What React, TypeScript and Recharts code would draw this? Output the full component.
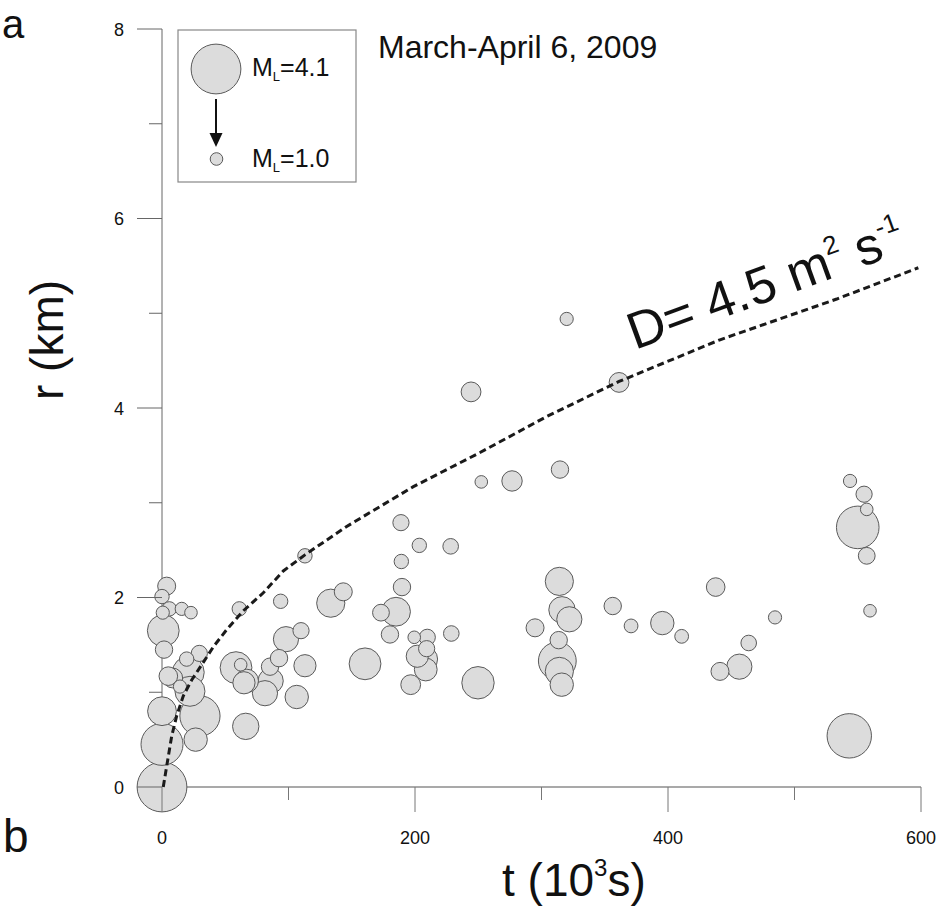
import React from 'react';
import { ScatterChart, Scatter, XAxis, YAxis } from 'recharts';

// event time (10^3 s), distance r (km), local magnitude
const quakeTime = [
    3.7, 0, 5.8, 0.6, 15.6, 22.9, 1.0, 1.6, 19.5, 29.5, 5.0, 8.5, 20.8, 22.1, 14.2, 0, 30.0, 26.6, 0, 0,
    113, 61.1, 93.8, 58.5, 62.2, 67, 64.8, 85.4, 92.5, 98, 109.9, 113, 85.9, 81.4, 106.5, 66.2,
    244.3, 252.4, 276.7, 314.6, 188.9, 203.4, 228.2, 189.2, 189.7, 314.1, 143.3, 133.4, 185, 173.1,
    356.3, 316.2, 322, 180.2, 199.4, 209.7, 228.7, 294.9, 313.6, 209.2, 201.8, 207.9, 208.5, 312.5,
    314.1, 316, 160.5, 196.6, 249.8, 319.9, 361.3, 543.9, 555, 557.1, 550, 557.1, 559.7, 370.8,
    395.5, 410.8, 437.7, 484.6, 463.8, 456.4, 441.1, 543.3,
];
const quakeDist = [
    2.12, 2.01, 1.88, 1.84, 1.88, 1.84, 1.65, 1.45, 1.35, 1.41, 1.17, 1.15, 1.21, 1.01, 1.06, 0.8, 0.75, 0.5, 0.45, 0.0,
    2.44, 1.88, 1.96, 1.26, 1.29, 1.12, 1.1, 1.27, 1.36, 1.56, 1.65, 1.28, 1.12, 0.99, 0.95, 0.64,
    4.17, 3.22, 3.23, 3.35, 2.79, 2.55, 2.54, 2.38, 2.11, 2.17, 2.06, 1.94, 1.85, 1.84,
    1.91, 1.87, 1.77, 1.61, 1.58, 1.58, 1.62, 1.68, 1.55, 1.46, 1.38, 1.35, 1.24, 1.33,
    1.22, 1.08, 1.3, 1.08, 1.1, 4.94, 4.27, 3.23, 3.09, 2.93, 2.74, 2.44, 1.86, 1.7,
    1.73, 1.59, 2.11, 1.79, 1.52, 1.27, 1.22, 0.54,
];
const quakeMag = [
    1.45, 1.15, 1.15, 1.05, 1.05, 1.0, 2.6, 1.4, 1.15, 1.3, 1.5, 1.6, 2.6, 2.45, 1.05, 2.35, 3.3, 1.9, 3.45, 4.1,
    1.15, 1.15, 1.15, 2.6, 1.0, 1.9, 1.8, 1.4, 1.4, 2.05, 1.3, 1.8, 2.05, 2.05, 1.9, 2.15,
    1.6, 1.0, 1.65, 1.4, 1.3, 1.15, 1.25, 1.15, 1.4, 2.3, 1.45, 2.3, 2.35, 1.35,
    1.4, 2.15, 2.05, 1.4, 1.0, 1.3, 1.25, 1.45, 1.4, 1.3, 1.8, 2.05, 1.85, 3.1,
    2.3, 1.9, 2.6, 1.6, 2.65, 1.05, 1.6, 1.05, 1.3, 1.0, 3.5, 1.35, 1.0, 1.1,
    1.9, 1.1, 1.5, 1.05, 1.25, 2.05, 1.45, 3.65,
];

// triggering front, D = 4.5 m^2/s
const frontTime = [1, 3.7, 7.7, 11.6, 16.8, 23.5, 31.4, 40.6, 51.1, 64.3, 80.1, 95.9, 113, 146, 198.7, 251.4, 304.1, 361.3, 441.1, 533.4, 597.9];
const frontDist = [0, 0.22, 0.54, 0.75, 0.96, 1.13, 1.29, 1.48, 1.66, 1.86, 2.05, 2.28, 2.45, 2.75, 3.17, 3.53, 3.91, 4.28, 4.72, 5.15, 5.48];

const xTicks = [0, 100, 200, 300, 400, 500, 600];
const yTicks = [0, 1, 2, 3, 4, 5, 6, 7, 8];
const legendMags = [4.1, 1.0];

const FONT = '"Liberation Sans", Arial, Helvetica, sans-serif';
const INK = '#111';

// bubble radius from magnitude
const radius = (m: number) => 6.3 + (m - 1) * 6;

const quakes = quakeTime
    .map((t, i) => ({ t, r: quakeDist[i], m: quakeMag[i] }))
    .sort((a, b) => b.m - a.m);
const front = frontTime.map((t, i) => ({ t, r: frontDist[i] }));

const Bubble = (props: any) => {
    const { cx, cy, payload } = props;
    if (cx == null || cy == null) return <g />;
    return <circle cx={cx} cy={cy} r={radius(payload.m)} fill="#dcdcdc" stroke="#5a5a5a" strokeWidth={1} />;
};

const XTick = ({ x, y, payload }: any) => {
    const major = payload.value % 200 === 0;
    return (
        <g>
            <line x1={x} x2={x} y1={y} y2={y + (major ? 25 : 13)} stroke="#777" strokeWidth={1} />
            {major && (
                <text x={x} y={y + 57} textAnchor="middle" fontSize={18} fontFamily={FONT} fill={INK}>
                    {payload.value}
                </text>
            )}
        </g>
    );
};

const YTick = ({ x, y, payload }: any) => {
    const major = payload.value % 2 === 0;
    return (
        <g>
            <line x1={x} x2={x - (major ? 25 : 13)} y1={y} y2={y} stroke="#666" strokeWidth={1} />
            {major && (
                <text x={x - 38} y={y + 6.5} textAnchor="end" fontSize={18} fontFamily={FONT} fill={INK}>
                    {payload.value}
                </text>
            )}
        </g>
    );
};

const Annotations = () => (
    <svg width={939} height={908} style={{ position: 'absolute', left: 0, top: 0, pointerEvents: 'none' }}>
        <g fontFamily={FONT} fill={INK}>
            <text x={2} y={38} fontSize={40}>a</text>
            <text x={3} y={852} fontSize={46}>b</text>

            <text x={378} y={58} fontSize={32}>March-April 6, 2009</text>

            {/* legend */}
            <rect x={178} y={30} width={178} height={152} fill="#fff" stroke="#888" strokeWidth={1.2} />
            <circle cx={216} cy={69} r={radius(legendMags[0])} fill="#dcdcdc" stroke="#5a5a5a" />
            <line x1={216} x2={216} y1={99} y2={134} stroke={INK} strokeWidth={2} />
            <polygon points="209.5,133 222.5,133 216,147" fill={INK} />
            <circle cx={216.5} cy={159} r={radius(legendMags[1])} fill="#dcdcdc" stroke="#5a5a5a" />
            <text x={252} y={76} fontSize={25}>
                M<tspan fontSize={13} dy={5}>L</tspan><tspan dy={-5}>={legendMags[0].toFixed(1)}</tspan>
            </text>
            <text x={252} y={167} fontSize={25}>
                M<tspan fontSize={13} dy={5}>L</tspan><tspan dy={-5}>={legendMags[1].toFixed(1)}</tspan>
            </text>

            {/* axis titles */}
            <text transform="translate(63,400) rotate(-90)" fontSize={46}>r (km)</text>
            <text x={502} y={896} fontSize={46}>
                t (10<tspan fontSize={24} dy={-20}>3</tspan><tspan dy={20}>s)</tspan>
            </text>

            {/* curve label */}
            <text transform="translate(635,350) rotate(-20)" fontSize={52}>
                D= 4.5 m<tspan fontSize={26} dy={-23}>2</tspan>
                <tspan dy={23}> s</tspan>
                <tspan fontSize={26} dy={-23}>-1</tspan>
            </text>
        </g>
    </svg>
);

export default function App() {
    return (
        <div style={{ position: 'absolute', left: 0, top: 0, width: 939, height: 908, background: '#fff' }}>
            <ScatterChart width={939} height={908} margin={{ top: 29, right: 18, bottom: 0, left: 0 }}>
                <XAxis
                    type="number"
                    dataKey="t"
                    domain={[0, 600]}
                    ticks={xTicks}
                    height={121}
                    tickSize={0}
                    tickMargin={0}
                    tickLine={false}
                    tick={XTick}
                    axisLine={{ stroke: '#8c8c8c', strokeWidth: 1.6 }}
                />
                <YAxis
                    type="number"
                    dataKey="r"
                    domain={[0, 8]}
                    ticks={yTicks}
                    width={162}
                    tickSize={0}
                    tickMargin={0}
                    tickLine={false}
                    tick={YTick}
                    axisLine={{ stroke: '#666', strokeWidth: 1 }}
                />
                <Scatter data={quakes} shape={Bubble} isAnimationActive={false} />
                <Scatter
                    data={front}
                    line={{ stroke: '#1a1a1a', strokeWidth: 3, strokeDasharray: '7 4' }}
                    lineType="joint"
                    shape={() => <g />}
                    isAnimationActive={false}
                />
            </ScatterChart>
            <Annotations />
        </div>
    );
}
